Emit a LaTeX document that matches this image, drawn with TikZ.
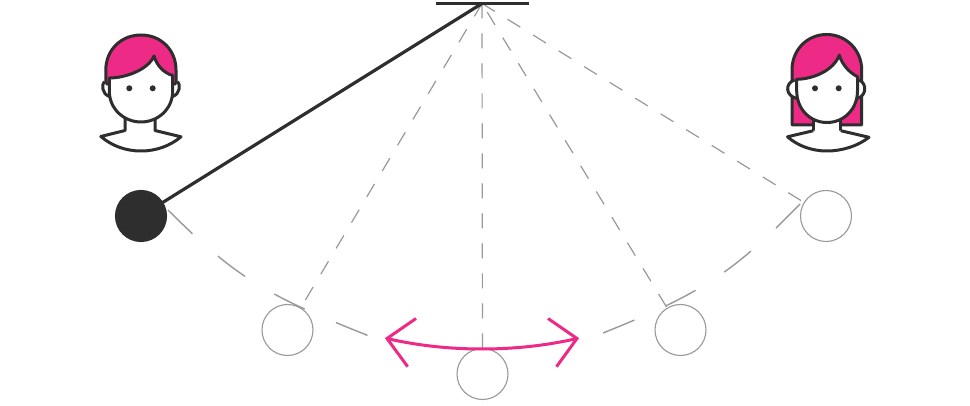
\documentclass[tikz,border=0pt]{standalone}
\definecolor{ink}{HTML}{2E2E2E}
\definecolor{hot}{HTML}{EE2A87}
\definecolor{ghost}{HTML}{999999}
\tikzset{
  bob/.style={circle,minimum size=51pt,inner sep=0pt,outer sep=0pt,draw=ghost,line width=1.1pt,fill=none},
  darkbob/.style={bob,draw=ink,fill=ink},
  ray/.style={draw=ghost,line width=1.2pt,dash pattern=on 15pt off 15pt},
  swing/.style={draw=ghost,line width=1.4pt,dash pattern=on 34pt off 34pt},
  rod/.style={draw=ink,line width=3.2pt},
  motion/.style={draw=hot,line width=3pt},
  outline/.style={draw=ink,line width=3pt,line join=round},
  eye/.style={fill=ink,draw=none}
}
\begin{document}
\begin{tikzpicture}[x=1pt,y=-1pt]
\useasboundingbox (0,0) rectangle (970,406);
\fill[white] (0,0) rectangle (970,406);
\coordinate (pivot) at (482,3.5);
\coordinate (barL) at (435.5,3.5);
\coordinate (barR) at (529,3.5);
\node[darkbob] (b0) at (141,216) {};
\node[bob] (b1) at (287.5,330) {};
\node[bob] (b2) at (482.5,374) {};
\node[bob] (b3) at (680.5,330) {};
\node[bob] (b4) at (826,216) {};
% rays
\draw[ray] (pivot) -- (b1);
\draw[ray] (pivot) -- (b2);
\draw[ray,dash phase=20pt] (pivot) -- (b3);
\draw[ray] (pivot) -- (b4);
% swing path
\coordinate (sA) at (168,210);
\coordinate (sB) at (369,336);
\coordinate (sC) at (800,204);
\coordinate (sD) at (603,333);
\draw[swing] (sA) .. controls (238,280) and (269,296) .. (sB);
\draw[swing] (sC) .. controls (735,271) and (703,293) .. (sD);
% rod and bar
\draw[rod] (barL) -- (barR);
\draw[rod] (pivot) -- (b0);
% motion arrow
\coordinate (mL) at (387,338.5);
\coordinate (mR) at (577,338.5);
\draw[motion] (mL) .. controls (447,352.5) and (517,352.5) .. (mR);
\draw[motion,line join=miter] (416,318.5) -- (mL) -- (407.7,366.7);
\draw[motion,line join=miter] (548,318.5) -- (mR) -- (556.5,366.7);
% left face
\draw[outline,fill=hot] (105.8,84) -- (105.8,70) .. controls (105.8,50) and (121,35) .. (141,35) .. controls (161,35) and (176,50) .. (176,70) -- (176,84) -- cycle;
\draw[outline,fill=white] (104.5,81.5) .. controls (101.5,84) and (101.5,94) .. (109.5,96.5);
\draw[outline,fill=white] (177.5,81.5) .. controls (180.5,84) and (180.5,94) .. (172.5,96.5);
\draw[outline,fill=white] (125,114) -- (125,130.5) -- (100.8,136.5) .. controls (112,146) and (126,151) .. (141,151) .. controls (156,151) and (170,146) .. (181,136.8) -- (155,130.5) -- (155,114);
\draw[outline,fill=white] (109.3,78) .. controls (125,78) and (148,70) .. (154,56) .. controls (157,66) and (164,73) .. (172.7,75.5) -- (172.7,91) .. controls (172.7,109) and (158,122) .. (141,122) .. controls (124,122) and (109.3,109) .. (109.3,91) -- cycle;
\fill[eye] (129.3,88.3) circle (3);
\fill[eye] (152.7,88.3) circle (3);
% right face
\draw[outline,fill=hot] (792,125) -- (792,70) .. controls (792,50) and (807,34.5) .. (826.7,34.5) .. controls (846,34.5) and (861.7,50) .. (861.7,70) -- (861.7,125) -- cycle;
\draw[outline,fill=white] (794.5,80) .. controls (785,83) and (785,96) .. (797,98.5);
\draw[outline,fill=white] (859,80) .. controls (867,83) and (867,96) .. (857,98.5);
\fill[white] (813.3,112) rectangle (840.7,131);
\draw[outline] (813.3,112) -- (813.3,131);
\draw[outline] (840.7,112) -- (840.7,131);
\draw[outline,fill=white] (813.3,130.7) -- (787.5,136.8) .. controls (798,146) and (812,151) .. (827,151) .. controls (842,151) and (858,146) .. (869,137.3) -- (840.7,130.7);
\draw[outline,fill=white] (796.7,79.3) .. controls (814,79) and (834,70) .. (839.3,55) .. controls (842,65) and (850,73) .. (857.5,76.7) -- (857.5,91) .. controls (857.5,109) and (844,122.5) .. (827,122.5) .. controls (810,122.5) and (796.7,109) .. (796.7,91) -- cycle;
\fill[eye] (815,88.3) circle (3);
\fill[eye] (838.7,88.3) circle (3);
\end{tikzpicture}
\end{document}
